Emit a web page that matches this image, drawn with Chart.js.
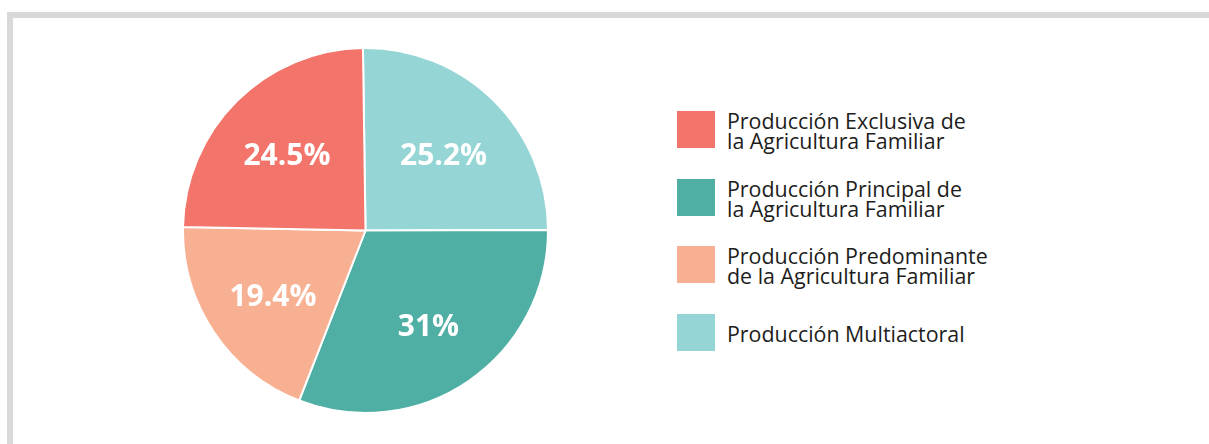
<!DOCTYPE html>
<html>
<head>
<meta charset="utf-8">
<script src="https://cdn.jsdelivr.net/npm/chart.js@4"></script>
<style>
  body { margin: 0; background: #fff; width: 1209px; height: 444px; overflow: hidden; position: relative; font-family: "Open Sans", sans-serif; }
  #frame { position: absolute; left: 7px; top: 12px; width: 1300px; height: 600px; border-top: 6px solid #d9d9d9; border-left: 6px solid #d9d9d9; }
  #pieBox { position: absolute; left: 182px; top: 47px; width: 367px; height: 367px; }
  .item { position: absolute; left: 677px; height: 37px; display: flex; align-items: center; }
  .box { width: 38px; height: 37px; flex: none; }
  .txt { margin-left: 12px; font-size: 21.4px; line-height: 20px; color: #1d1d1b; padding-top: 3px; white-space: nowrap; }
</style>
</head>
<body>
<div id="frame"></div>
<div id="pieBox"><canvas id="pie"></canvas></div>
<div id="legend"></div>
<script>
// legend order
const categories = [
    ['Producción Exclusiva de', 'la Agricultura Familiar'],
    ['Producción Principal de', 'la Agricultura Familiar'],
    ['Producción Predominante', 'de la Agricultura Familiar'],
    ['Producción Multiactoral']
];
const values = [24.5, 31, 19.4, 25.2];
const colors = ['#f2746a', '#4fafa4', '#f8b092', '#96d5d5'];
// order of slices clockwise from the top
const sliceOrder = [3, 1, 2, 0];

const legendTops = [111, 179, 246, 314];
const legend = document.getElementById('legend');
categories.forEach((lines, i) => {
    const item = document.createElement('div');
    item.className = 'item';
    item.style.top = legendTops[i] + 'px';
    const box = document.createElement('div');
    box.className = 'box';
    box.style.background = colors[i];
    const txt = document.createElement('div');
    txt.className = 'txt';
    txt.innerHTML = lines.join('<br>');
    item.appendChild(box);
    item.appendChild(txt);
    legend.appendChild(item);
});

const pctLabels = {
    id: 'pctLabels',
    afterDatasetsDraw(chart) {
        const ctx = chart.ctx;
        const meta = chart.getDatasetMeta(0);
        ctx.save();
        ctx.fillStyle = '#ffffff';
        ctx.font = 'bold 30px "Open Sans"';
        ctx.textAlign = 'center';
        ctx.textBaseline = 'middle';
        meta.data.forEach((arc, i) => {
            const p = arc.getProps(['x', 'y', 'startAngle', 'endAngle', 'outerRadius'], true);
            const mid = (p.startAngle + p.endAngle) / 2;
            const r = p.outerRadius * 0.61;
            const v = chart.data.datasets[0].data[i];
            ctx.fillText(v + '%', p.x + Math.cos(mid) * r, p.y + Math.sin(mid) * r + 5);
        });
        ctx.restore();
    }
};

new Chart(document.getElementById('pie'), {
    type: 'pie',
    data: {
        labels: sliceOrder.map(i => categories[i].join(' ')),
        datasets: [{
            data: sliceOrder.map(i => values[i]),
            backgroundColor: sliceOrder.map(i => colors[i]),
            borderColor: '#ffffff',
            borderWidth: 2
        }]
    },
    options: {
        responsive: true,
        maintainAspectRatio: false,
        animation: false,
        rotation: -0.8,
        layout: { padding: 0 },
        plugins: {
            legend: { display: false },
            tooltip: { enabled: false }
        }
    },
    plugins: [pctLabels]
});
</script>
</body>
</html>
